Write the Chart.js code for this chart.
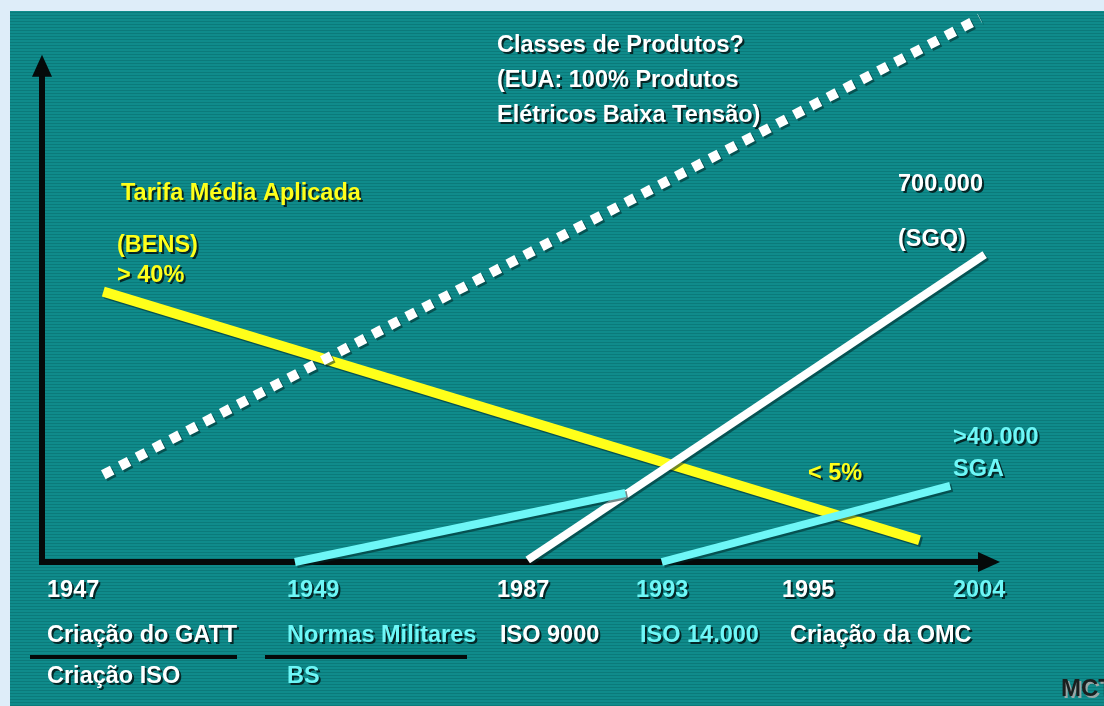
<!DOCTYPE html>
<html>
<head>
<meta charset="utf-8">
<script src="https://cdn.jsdelivr.net/npm/chart.js@4/dist/chart.umd.min.js"></script>
<style>
  html, body { margin: 0; padding: 0; background: #deedf9; }
  #wrap { width: 1104px; height: 706px; }
</style>
</head>
<body>
<div id="wrap"><canvas id="chart" width="1104" height="706"></canvas></div>
<script>
// eixo x/y em unidades esquemáticas (0-100), não anos reais
const tarifaX = [6.4, 91.6];
const tarifaY = [53.3, 4.3];

const classesX = [6.4, 97.9];
const classesY = [17.2, 107.2];

const sgqX = [50.7, 98.4];
const sgqY = [0.4, 60.6];

const normasX = [26.4, 60.9];
const normasY = [0, 13.6];

const sgaX = [64.7, 94.8];
const sgaY = [0, 15.0];

// rótulos do eixo x (linha do tempo)
const anos = ['1947', '1949', '1987', '1993', '1995', '2004'];
const eventos = ['Criação do GATT', 'Normas Militares', 'ISO 9000', 'ISO 14.000', 'Criação da OMC', ''];
const eventos2 = ['Criação ISO', 'BS', '', '', '', ''];

// anotações
const notasClasses = ['Classes de Produtos?', '(EUA: 100% Produtos', 'Elétricos Baixa Tensão)'];
const notasTarifa = ['Tarifa Média Aplicada', '(BENS)', '> 40%'];
const notaTarifaFim = '< 5%';
const notasSgq = ['700.000', '(SGQ)'];
const notasSga = ['>40.000', 'SGA'];

const COLORS = {
    frame: '#deedf9',
    panel: '#0f8b8b',
    stripe: 'rgba(0, 70, 70, 0.25)',
    yellow: '#ffff1a',
    white: '#ffffff',
    cyan: '#6ef7f7',
    axis: '#050a0a',
    shadow: '#062626'
};

const FONT = "bold 23.5px 'Liberation Sans Narrow', 'Liberation Sans', Arial, sans-serif";

function pts(xs, ys) {
    return xs.map((x, i) => ({ x: x, y: ys[i] }));
}

// posições dos textos (pixels na tela)
const LAYOUT = {
    classes: { x: 497, y: [46, 81, 116] },
    tarifa: { x: [121, 117, 117], y: [194, 246, 276] },
    tarifaFim: { x: 808, y: 474 },
    sgq: { x: 898, y: [185, 240] },
    sga: { x: 953, y: [438, 470] },
    anosX: [47, 287, 497, 636, 782, 953],
    eventosX: [47, 287, 500, 640, 790, 953],
    rows: [591, 636, 677],
    underlines: [[30, 237], [265, 467]],
    underlineY: 657
};

const anoCores = [COLORS.white, COLORS.cyan, COLORS.white, COLORS.cyan, COLORS.white, COLORS.cyan];

function shadowText(ctx, text, x, y, color) {
    ctx.fillStyle = COLORS.shadow;
    ctx.fillText(text, x + 2, y + 2);
    ctx.fillStyle = color;
    ctx.fillText(text, x, y);
}

const backgroundPlugin = {
    id: 'fundo',
    beforeDraw(chart) {
        const ctx = chart.ctx;
        ctx.save();
        ctx.fillStyle = COLORS.frame;
        ctx.fillRect(0, 0, chart.width, chart.height);
        ctx.fillStyle = COLORS.panel;
        ctx.fillRect(10, 11, chart.width - 10, chart.height - 11);
        // linhas de varredura
        ctx.fillStyle = COLORS.stripe;
        for (let y = 12; y < chart.height; y += 3) {
            ctx.fillRect(10, y, chart.width - 10, 1);
        }
        ctx.restore();
    }
};

const axesPlugin = {
    id: 'eixos',
    beforeDatasetsDraw(chart) {
        const ctx = chart.ctx;
        const xs = chart.scales.x;
        const ys = chart.scales.y;
        const x0 = xs.getPixelForValue(0);
        const y0 = ys.getPixelForValue(0);
        const xEnd = xs.getPixelForValue(100);
        const yEnd = ys.getPixelForValue(100);
        ctx.save();
        ctx.strokeStyle = COLORS.axis;
        ctx.fillStyle = COLORS.axis;
        ctx.lineWidth = 6;
        ctx.lineCap = 'square';
        ctx.beginPath();
        ctx.moveTo(x0, y0);
        ctx.lineTo(x0, yEnd + 16);
        ctx.moveTo(x0, y0);
        ctx.lineTo(xEnd - 16, y0);
        ctx.stroke();
        // setas
        ctx.beginPath();
        ctx.moveTo(x0, yEnd);
        ctx.lineTo(x0 - 10, yEnd + 22);
        ctx.lineTo(x0 + 10, yEnd + 22);
        ctx.closePath();
        ctx.fill();
        ctx.beginPath();
        ctx.moveTo(xEnd, y0);
        ctx.lineTo(xEnd - 22, y0 - 10);
        ctx.lineTo(xEnd - 22, y0 + 10);
        ctx.closePath();
        ctx.fill();
        ctx.restore();

        // sombra das linhas
        ctx.save();
        ctx.shadowColor = 'rgba(0, 40, 40, 0.55)';
        ctx.shadowOffsetX = 2;
        ctx.shadowOffsetY = 2;
        ctx.shadowBlur = 0;
    },
    afterDatasetsDraw(chart) {
        chart.ctx.restore();
    }
};

const textPlugin = {
    id: 'textos',
    afterDraw(chart) {
        const ctx = chart.ctx;
        ctx.save();
        ctx.font = FONT;
        ctx.textBaseline = 'middle';
        ctx.textAlign = 'left';

        notasClasses.forEach((t, i) => shadowText(ctx, t, LAYOUT.classes.x, LAYOUT.classes.y[i], COLORS.white));
        notasTarifa.forEach((t, i) => shadowText(ctx, t, LAYOUT.tarifa.x[i], LAYOUT.tarifa.y[i], COLORS.yellow));
        shadowText(ctx, notaTarifaFim, LAYOUT.tarifaFim.x, LAYOUT.tarifaFim.y, COLORS.yellow);
        notasSgq.forEach((t, i) => shadowText(ctx, t, LAYOUT.sgq.x, LAYOUT.sgq.y[i], COLORS.white));
        notasSga.forEach((t, i) => shadowText(ctx, t, LAYOUT.sga.x, LAYOUT.sga.y[i], COLORS.cyan));

        anos.forEach((t, i) => {
            const c = anoCores[i];
            shadowText(ctx, t, LAYOUT.anosX[i], LAYOUT.rows[0], c);
            if (eventos[i]) shadowText(ctx, eventos[i], LAYOUT.eventosX[i], LAYOUT.rows[1], c);
            if (eventos2[i]) shadowText(ctx, eventos2[i], LAYOUT.eventosX[i], LAYOUT.rows[2], c);
        });

        ctx.strokeStyle = COLORS.axis;
        ctx.lineWidth = 4;
        LAYOUT.underlines.forEach(([a, b]) => {
            ctx.beginPath();
            ctx.moveTo(a, LAYOUT.underlineY);
            ctx.lineTo(b, LAYOUT.underlineY);
            ctx.stroke();
        });

        // logotipo cortado no canto
        ctx.font = "bold 24px 'Liberation Sans Narrow', 'Liberation Sans', Arial, sans-serif";
        ctx.fillStyle = '#9aa6a6';
        ctx.fillText('MCT', 1063, 691);
        ctx.fillStyle = '#1a1f1f';
        ctx.fillText('MCT', 1061, 689);
        ctx.restore();
    }
};

function lineSet(label, xs, ys, color, width, dash) {
    return {
        label: label,
        data: pts(xs, ys),
        borderColor: color,
        borderWidth: width,
        borderDash: dash || [],
        borderCapStyle: 'butt',
        pointRadius: 0,
        fill: false,
        tension: 0,
        clip: false
    };
}

new Chart(document.getElementById('chart'), {
    type: 'line',
    data: {
        datasets: [
            lineSet('Classes de Produtos', classesX, classesY, COLORS.white, 10, [10, 9]),
            lineSet('Normas Militares', normasX, normasY, COLORS.cyan, 8),
            lineSet('SGA', sgaX, sgaY, COLORS.cyan, 8),
            lineSet('SGQ', sgqX, sgqY, COLORS.white, 8),
            lineSet('Tarifa Média Aplicada', tarifaX, tarifaY, COLORS.yellow, 10)
        ]
    },
    options: {
        responsive: false,
        animation: false,
        layout: { padding: { left: 42, right: 104, top: 4, bottom: 144 } },
        scales: {
            x: { type: 'linear', min: 0, max: 100, display: false },
            y: { type: 'linear', min: 0, max: 110, display: false }
        },
        plugins: {
            legend: { display: false },
            tooltip: { enabled: false }
        }
    },
    plugins: [backgroundPlugin, axesPlugin, textPlugin]
});
</script>
</body>
</html>
